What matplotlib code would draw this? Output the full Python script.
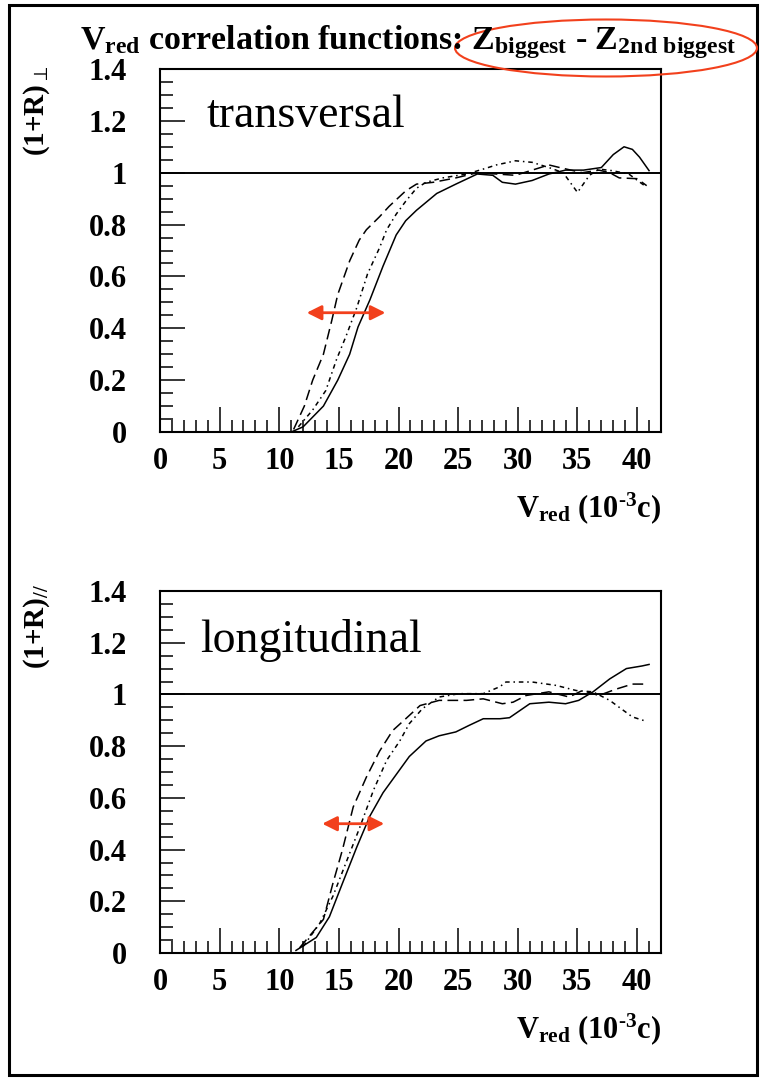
import matplotlib
matplotlib.use("Agg")
import matplotlib.pyplot as plt
from matplotlib.ticker import MultipleLocator, FuncFormatter
from matplotlib.patches import Ellipse, Rectangle

plt.rcParams['font.family'] = ['Liberation Serif', 'DejaVu Serif']
plt.rcParams['mathtext.fontset'] = 'custom'
plt.rcParams['mathtext.rm'] = 'Liberation Serif:bold'
plt.rcParams['mathtext.it'] = 'Liberation Serif:bold'
plt.rcParams['mathtext.bf'] = 'Liberation Serif:bold'

# ---- data ----
# transversal (top panel)
tr_solid_x = [11.0, 12.0, 13.7, 14.9, 15.9, 16.6, 17.6, 18.7, 19.8, 20.6, 21.5, 23.2, 24.8,
              26.6, 27.9, 28.7, 29.8, 31.2, 32.6, 34.0, 35.5, 37.0, 38.0, 38.9, 39.6, 40.2, 41.0]
tr_solid_y = [0.0, 0.02, 0.10, 0.20, 0.30, 0.405, 0.51, 0.64, 0.76, 0.815, 0.855, 0.92, 0.956,
              0.995, 0.99, 0.963, 0.956, 0.97, 0.995, 1.01, 1.01, 1.02, 1.07, 1.10, 1.09, 1.06, 1.008]
tr_dash_x = [11.2, 12.1, 12.8, 13.7, 14.4, 14.9, 15.9, 16.7, 17.3, 18.4, 19.2, 20.6, 21.5, 22.9,
             24.8, 26.6, 28.2, 29.8, 31.2, 32.6, 33.5, 35.4, 36.8, 37.7, 38.5, 40.0, 40.8]
tr_dash_y = [0.01, 0.10, 0.20, 0.30, 0.43, 0.53, 0.66, 0.74, 0.78, 0.83, 0.87, 0.93, 0.956, 0.963,
             0.98, 1.0, 0.995, 0.99, 1.01, 1.03, 1.02, 1.0, 1.01, 1.0, 0.98, 0.977, 0.95]
tr_dot_x = [11.6, 12.8, 13.9, 14.8, 15.6, 16.5, 17.4, 18.4, 19.0, 19.8, 20.6, 21.5, 22.3, 23.7,
            25.7, 27.1, 28.2, 29.8, 31.2, 32.6, 33.8, 35.0, 36.0, 36.8, 37.9, 39.3, 40.8]
tr_dot_y = [0.02, 0.085, 0.16, 0.28, 0.37, 0.48, 0.61, 0.71, 0.78, 0.84, 0.89, 0.94, 0.963, 0.98,
            0.995, 1.014, 1.03, 1.046, 1.04, 1.02, 1.0, 0.924, 0.99, 1.014, 1.008, 0.995, 0.944]

# longitudinal (bottom panel)
lo_solid_x = [11.4, 13.1, 14.2, 15.3, 16.5, 17.6, 18.7, 19.8, 20.9, 22.3, 23.4, 24.8, 25.9, 27.1,
              28.5, 29.3, 31.0, 32.6, 34.0, 35.1, 36.3, 37.7, 39.1, 40.4, 41.0]
lo_solid_y = [0.01, 0.06, 0.14, 0.27, 0.41, 0.53, 0.62, 0.69, 0.76, 0.82, 0.84, 0.855, 0.88, 0.906,
              0.906, 0.91, 0.964, 0.97, 0.964, 0.977, 1.01, 1.06, 1.10, 1.11, 1.116]
lo_dash_x = [11.7, 13.7, 14.5, 15.3, 16.2, 17.3, 18.4, 19.5, 20.6, 21.8, 23.4, 25.7, 27.1, 28.7,
             29.6, 30.7, 32.6, 34.3, 35.4, 36.8, 38.2, 39.6, 40.9]
lo_dash_y = [0.02, 0.13, 0.27, 0.40, 0.565, 0.68, 0.78, 0.86, 0.906, 0.957, 0.977, 0.977, 0.983,
             0.964, 0.97, 0.996, 1.01, 0.99, 1.015, 0.996, 1.02, 1.04, 1.04]
lo_dot_x = [12.0, 13.4, 14.5, 15.6, 16.7, 17.9, 19.0, 20.1, 20.9, 22.0, 23.4, 25.1, 27.1, 28.5,
            29.0, 31.2, 33.2, 34.9, 36.3, 37.7, 39.6, 40.7]
lo_dot_y = [0.025, 0.115, 0.22, 0.35, 0.48, 0.63, 0.745, 0.82, 0.887, 0.945, 0.99, 1.003, 1.003,
            1.03, 1.048, 1.048, 1.035, 1.015, 1.01, 0.977, 0.913, 0.897]

x_ticks = [0, 5, 10, 15, 20, 25, 30, 35, 40]

fig = plt.figure(figsize=(7.61, 10.8), dpi=100)
W, H = 761.0, 1080.0

# outer border of the slide
fig.patches.append(Rectangle((9 / W, 5 / H), 748 / W, 1070 / H, transform=fig.transFigure,
                             fill=False, lw=2.2, ec='black'))

ax_top = fig.add_axes([160 / W, 1 - 432 / H, 501 / W, 363 / H])
ax_bot = fig.add_axes([160 / W, 1 - 953 / H, 501 / W, 362 / H])

panels = [
    (ax_top, tr_solid_x, tr_solid_y, tr_dash_x, tr_dash_y, tr_dot_x, tr_dot_y),
    (ax_bot, lo_solid_x, lo_solid_y, lo_dash_x, lo_dash_y, lo_dot_x, lo_dot_y),
]

for ax, sx, sy, dx, dy, px, py in panels:
    ax.plot(sx, sy, color='black', lw=1.1, ls='-')
    ax.plot(dx, dy, color='black', lw=1.1, ls=(0, (7, 3.5)))
    ax.plot(px, py, color='black', lw=1.1, ls=(0, (3, 2.5, 1, 2.5)))
    ax.axhline(1.0, color='black', lw=1.4)
    ax.set_xlim(0, 42)
    ax.set_ylim(0, 1.4)
    ax.xaxis.set_major_locator(MultipleLocator(5))
    ax.xaxis.set_minor_locator(MultipleLocator(1))
    ax.yaxis.set_major_locator(MultipleLocator(0.2))
    ax.yaxis.set_minor_locator(MultipleLocator(0.05))
    ax.set_xticks(x_ticks)
    ax.yaxis.set_major_formatter(FuncFormatter(lambda v, p: '%g' % round(v, 2)))
    ax.tick_params(which='both', direction='in', top=False, right=False, width=1.1)
    ax.tick_params(which='major', length=18)
    ax.tick_params(which='minor', length=9)
    ax.tick_params(axis='y', which='major', pad=24, labelsize=22)
    ax.tick_params(axis='x', which='major', pad=11, labelsize=22)
    for lab in ax.get_xticklabels() + ax.get_yticklabels():
        lab.set_fontweight('bold')
    for sp in ax.spines.values():
        sp.set_linewidth(1.5)

# panel names
ax_top.text(3.9, 1.22, 'transversal', fontsize=33, va='center', ha='left')
ax_bot.text(3.35, 1.21, 'longitudinal', fontsize=33, va='center', ha='left')

# red double arrows
arrow_kw = dict(arrowstyle='<|-|>', color='#f2401c', lw=2, mutation_scale=22, shrinkA=0, shrinkB=0)
ax_top.annotate('', xy=(18.9, 0.46), xytext=(12.3, 0.46), arrowprops=arrow_kw)
ax_bot.annotate('', xy=(18.8, 0.50), xytext=(13.6, 0.50), arrowprops=arrow_kw)

# axis labels
xlab = 'V$_{\\rm red}$ (10$^{\\rm \u20103}$c)'
fig.text(661 / W, 1 - 517 / H, xlab, fontsize=22, fontweight='bold', ha='right', va='baseline')
fig.text(661 / W, 1 - 1038 / H, xlab, fontsize=22, fontweight='bold', ha='right', va='baseline')
fig.text(37 / W, 1 - 66 / H, r'(1+R)$_{\perp}$', fontsize=21, fontweight='bold',
         rotation=90, ha='center', va='top')
fig.text(37 / W, 1 - 584 / H, r'(1+R)$_{//}$', fontsize=21, fontweight='bold',
         rotation=90, ha='center', va='top')

# title
fig.text(80 / W, 1 - 49 / H,
         r'V$_{\rm red}$ correlation functions: Z$_{\rm biggest}$ - Z$_{\rm 2nd\ biggest}$',
         fontsize=24.5, fontweight='bold', ha='left', va='baseline')
fig.patches.append(Ellipse((606 / W, 1 - 48 / H), 302 / W, 57 / H, transform=fig.transFigure,
                           fill=False, ec='#f2401c', lw=1.5))

fig.savefig('out.png', dpi=100)
